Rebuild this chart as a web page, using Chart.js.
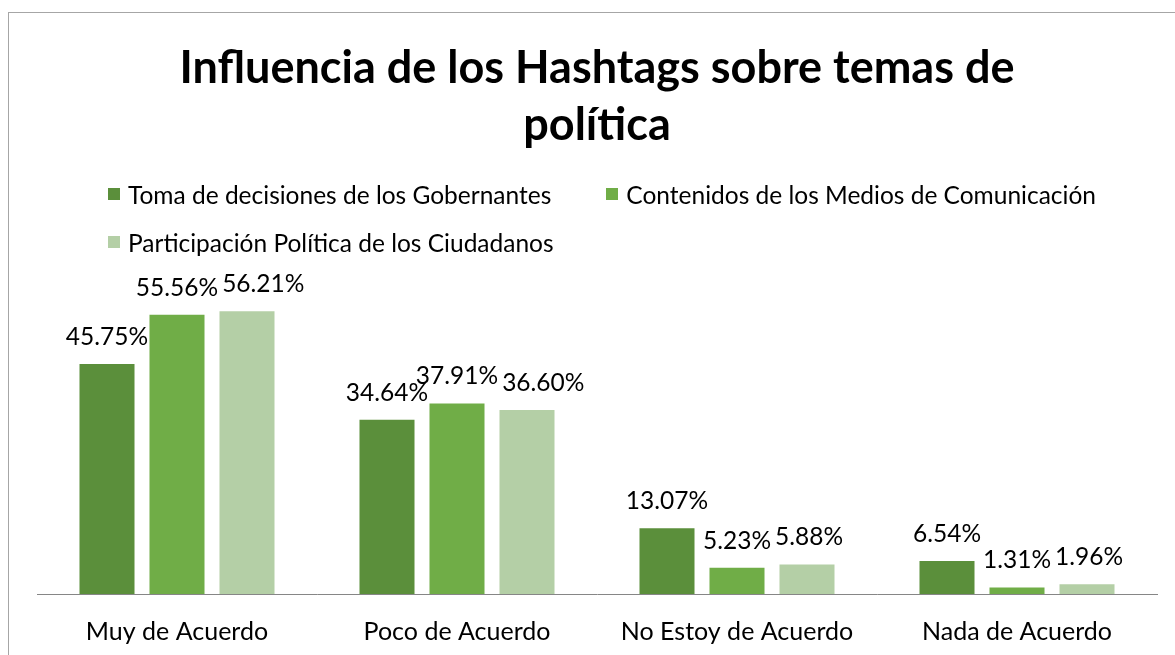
<!DOCTYPE html>
<html lang="es">
<head>
<meta charset="utf-8">
<script src="https://cdn.jsdelivr.net/npm/chart.js@4/dist/chart.umd.min.js"></script>
<style>
    html, body { margin: 0; padding: 0; background: #fff; overflow: hidden; }
    body { width: 1175px; height: 655px; position: relative; }
    .frame {
        position: absolute; left: 8px; top: 12px;
        width: 1177px; height: 680px;
        border-left: 1px solid #a6a6a6; border-top: 1px solid #a6a6a6;
    }
    .frame canvas { position: absolute; left: 0; top: 0; }
    #legend {
        position: absolute; left: 99px; top: 157px; width: 1050px;
        display: flex; flex-wrap: wrap; column-gap: 55px;
        font-family: Lato, sans-serif; font-size: 24.5px; color: #000;
    }
    #legend .item { display: flex; align-items: center; height: 48px; }
    #legend .box { width: 12px; height: 12px; margin-right: 8px; }
</style>
</head>
<body>
<div class="frame">
    <canvas id="chart" width="1177" height="660"></canvas>
    <div id="legend"></div>
</div>
<script>
// ====== DATA ======
const CATEGORIES = ['Muy de Acuerdo', 'Poco de Acuerdo', 'No Estoy de Acuerdo', 'Nada de Acuerdo'];
const SERIES_NAMES = [
    'Toma de decisiones de los Gobernantes',
    'Contenidos de los Medios de Comunicación',
    'Participación Política de los Ciudadanos'
];
const GOBERNANTES = [45.75, 34.64, 13.07, 6.54];
const MEDIOS      = [55.56, 37.91, 5.23, 1.31];
const CIUDADANOS  = [56.21, 36.60, 5.88, 1.96];

const COLORS = {
    oscuro: '#5B8F3B',
    medio:  '#70AD47',
    claro:  '#B4CFA6',
};

// ====== PLUGINS ======
// etiquetas de valor encima de cada barra (se corren a la derecha si chocan)
const barLabels = {
    id: 'barLabels',
    afterDatasetsDraw(chart) {
        const ctx = chart.ctx;
        ctx.save();
        ctx.font = '24.5px Lato, sans-serif';
        ctx.fillStyle = '#000';
        ctx.textAlign = 'center';
        ctx.textBaseline = 'middle';
        chart.data.labels.forEach((_, j) => {
            let prev = null;
            chart.data.datasets.forEach((ds, i) => {
                const bar = chart.getDatasetMeta(i).data[j];
                const text = ds.data[j].toFixed(2) + '%';
                const w = ctx.measureText(text).width;
                let x = bar.x;
                const y = bar.y - 27;
                if (prev && Math.abs(prev.y - y) < 12 && x - w / 2 < prev.right + 4) {
                    x = prev.right + 4 + w / 2;
                }
                ctx.fillText(text, x, y);
                prev = { y, right: x + w / 2 };
            });
        });
        ctx.restore();
    }
};

// leyenda en HTML (alineada a la izquierda como en Excel)
const htmlLegend = {
    id: 'htmlLegend',
    afterUpdate(chart) {
        const box = document.getElementById('legend');
        const items = chart.options.plugins.legend.labels.generateLabels(chart);
        box.innerHTML = items.map(it =>
            `<div class="item"><span class="box" style="background:${it.fillStyle}"></span>${it.text}</div>`
        ).join('');
    }
};

// ====== CHART ======
new Chart(document.getElementById('chart'), {
    type: 'bar',
    data: {
        labels: CATEGORIES,
        datasets: [
            { label: SERIES_NAMES[0], data: GOBERNANTES, backgroundColor: COLORS.oscuro },
            { label: SERIES_NAMES[1], data: MEDIOS,      backgroundColor: COLORS.medio },
            { label: SERIES_NAMES[2], data: CIUDADANOS,  backgroundColor: COLORS.claro },
        ]
    },
    options: {
        responsive: false,
        animation: false,
        datasets: { bar: { categoryPercentage: 0.75, barPercentage: 0.786 } },
        layout: { padding: { left: 28, right: 29, bottom: 11 } },
        plugins: {
            legend: { display: false },
            tooltip: { enabled: false },
            title: {
                display: true,
                text: ['Influencia de los Hashtags sobre temas de', 'política'],
                color: '#000',
                font: { family: 'Lato, sans-serif', size: 45, weight: 'bold', lineHeight: 1.27 },
                padding: { top: 27, bottom: 138 }
            }
        },
        scales: {
            y: { display: false, min: 0, max: 60 },
            x: {
                grid: { display: false },
                border: { color: '#868686', width: 1 },
                ticks: {
                    color: '#000',
                    padding: 15,
                    font: { family: 'Lato, sans-serif', size: 25 }
                }
            }
        }
    },
    plugins: [barLabels, htmlLegend]
});
</script>
</body>
</html>
